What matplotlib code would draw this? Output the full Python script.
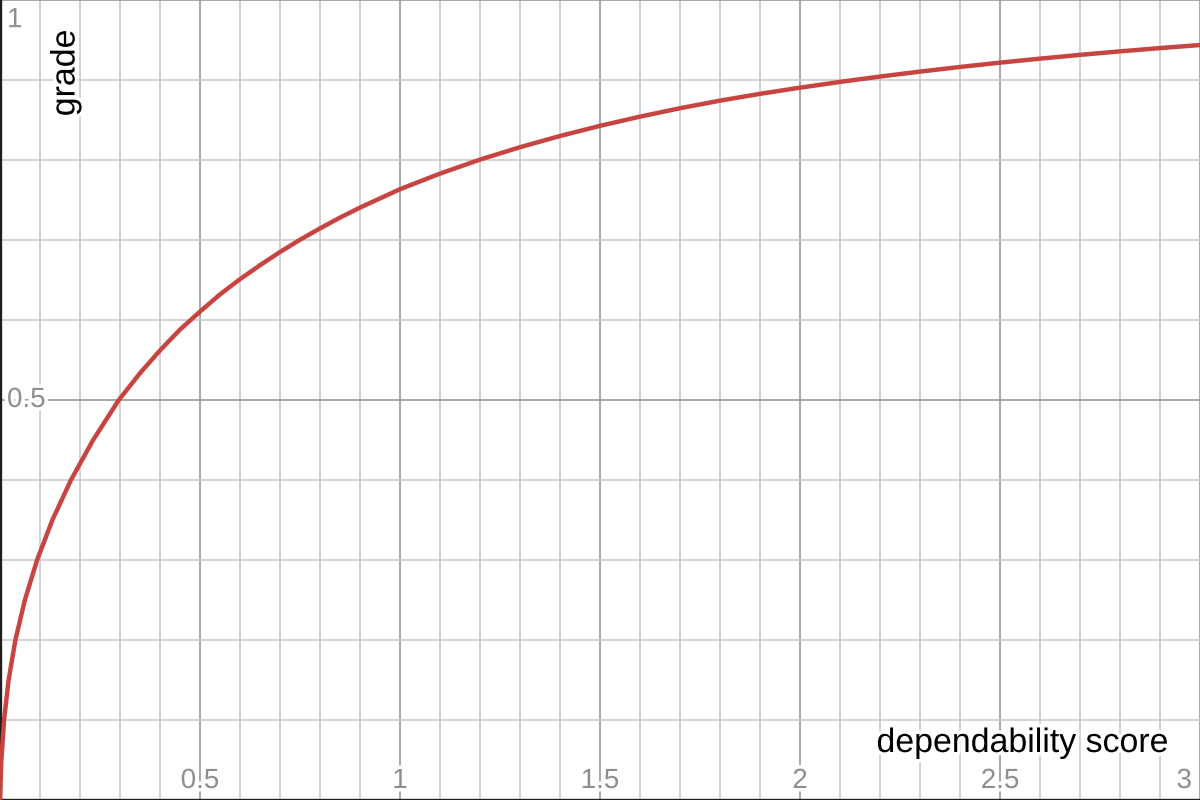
import numpy as np
import matplotlib
matplotlib.use("Agg")
import matplotlib.pyplot as plt
import matplotlib.patheffects as pe

plt.rcParams['font.family'] = ['Liberation Sans', 'DejaVu Sans']

# values (steep start read along the grade axis)
score = [0.0, 0.0034, 0.0102, 0.0215, 0.0385, 0.0622, 0.0927, 0.131, 0.1774,
         0.2328, 0.297, 0.35, 0.4, 0.45, 0.5, 0.55, 0.6, 0.65, 0.7, 0.75, 0.8,
         0.85, 0.9, 0.95, 1.0, 1.1, 1.2, 1.3, 1.4, 1.5, 1.6, 1.7, 1.8, 1.9, 2.0,
         2.1, 2.2, 2.3, 2.4, 2.5, 2.6, 2.7, 2.8, 2.9, 3.0]
grade = [0.0, 0.05, 0.10, 0.15, 0.20, 0.25, 0.30, 0.35, 0.40,
         0.45, 0.50, 0.5335, 0.562, 0.588, 0.6105, 0.632, 0.651, 0.6685, 0.685,
         0.7003, 0.7145, 0.728, 0.7405, 0.752, 0.7635, 0.783, 0.8005, 0.816,
         0.830, 0.8427, 0.8542, 0.8647, 0.8742, 0.8827, 0.8904, 0.8976, 0.9043,
         0.9105, 0.9163, 0.9217, 0.9267, 0.9314, 0.9358, 0.9399, 0.9437]

x_tick_vals = [0.5, 1, 1.5, 2, 2.5, 3]
x_tick_labels = ['0.5', '1', '1.5', '2', '2.5', '3']
y_tick_vals = [0.5, 1]
y_tick_labels = ['0.5', '1']

X_MAX, Y_MAX = 3, 1
LABEL_GRAY = '#8e8e8e'
CURVE_RED = '#c74440'

fig = plt.figure(figsize=(12, 8), dpi=100)
ax = fig.add_axes([0, 0, 1, 1])
ax.set_xlim(0, X_MAX)
ax.set_ylim(0, Y_MAX)

# grid: minor every 0.1, major every 0.5
ax.set_xticks(np.arange(0, X_MAX + 0.001, 0.5))
ax.set_xticks(np.arange(0, X_MAX + 0.001, 0.1), minor=True)
ax.set_yticks(np.arange(0, Y_MAX + 0.001, 0.5))
ax.set_yticks(np.arange(0, Y_MAX + 0.001, 0.1), minor=True)
ax.grid(True, which='minor', color='#c8c8c8', linewidth=1.1, zorder=0)
ax.grid(True, which='major', color='#8f8f8f', linewidth=1.1, zorder=0)
ax.tick_params(which='both', length=0, labelbottom=False, labelleft=False)
ax.set_axisbelow(True)

for side in ['top', 'right']:
    ax.spines[side].set_visible(False)
for side in ['left', 'bottom']:
    ax.spines[side].set_color('#1e1e1e')
    ax.spines[side].set_linewidth(2.4)

ax.plot(score, grade, color=CURVE_RED, linewidth=3.2, solid_capstyle='round',
        solid_joinstyle='round', zorder=3)

halo = [pe.withStroke(linewidth=5, foreground='white')]

# tick labels sit inside the plot, like in the reference
for v, lab in zip(x_tick_vals, x_tick_labels):
    ha = 'right' if v == X_MAX else 'center'
    xx = v - 0.02 if v == X_MAX else v
    ax.text(xx, 0.015, lab, ha=ha, va='baseline', fontsize=20,
            color=LABEL_GRAY, path_effects=halo, zorder=4)
ax.text(0.0175, y_tick_vals[0], y_tick_labels[0], ha='left', va='center',
        fontsize=20, color=LABEL_GRAY, path_effects=halo, zorder=4)
ax.text(0.0175, 0.966, y_tick_labels[1], ha='left', va='baseline',
        fontsize=20, color=LABEL_GRAY, path_effects=halo, zorder=4)

# axis titles
ax.text(0.9733, 0.06, 'dependability score', transform=ax.transAxes,
        ha='right', va='baseline', fontsize=24.4, color='black',
        path_effects=halo, zorder=5)
ax.text(66 / 1200, 1 - 73 / 800, 'grade', transform=ax.transAxes,
        rotation=90, ha='center', va='center', fontsize=24.4, color='black',
        path_effects=halo, zorder=5)

fig.savefig('out.png', dpi=100)
